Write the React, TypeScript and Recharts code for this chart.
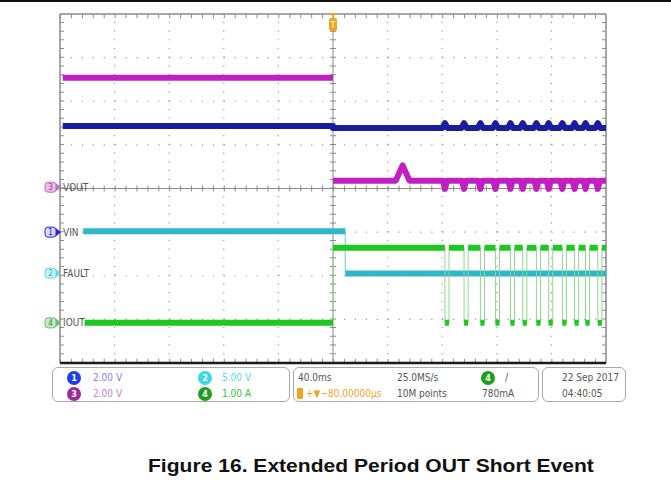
import React from 'react';
import { LineChart, Line, XAxis, YAxis, ReferenceLine } from 'recharts';

// scope screen: 40 ms/div x 10 div, 8 vertical div
const X_DOMAIN = [-200, 200];
const Y_DOMAIN = [-4, 4];
const xGridLines = [-160, -120, -80, -40, 40, 80, 120, 160];
const yGridLines = [-3, -2, -1, 1, 2, 3];

// channel settings: volts (or amps) per div, ground marker in div
const vinScale = 2;
const vinGround = -1.0;
const faultScale = 5;
const faultGround = -1.94;
const voutScale = 2;
const voutGround = 0.03;
const ioutScale = 1;
const ioutGround = -3.08;

// levels
const voutBefore = 5.02;
const voutAfter = 0.3;
const voutDip = -0.08;
const voutBumpAt = [46, 51, 56];
const voutBumpPeak = 1.0;

const vinBefore = 4.86;
const vinAfter = 4.77;
const vinBump = 5.0;

const faultHigh = 4.8;
const faultLow = -0.05;
const faultFallAt = 9;
const faultStart = -183;

const ioutOff = 0;
const ioutOn = 1.72;
const ioutStart = -182;

// hiccup retry instants after the short (ms) and IOUT low time
const retryTimes = [82, 96, 108, 119, 130, 139, 149, 158, 168, 177, 185, 194];
const retryLow = 3;

type Pt = { t: number; v: number | null };

const div = (value: number, scale: number, ground: number) => value / scale + ground;

const voutThick: Pt[] = (() => {
  const d = (v: number) => div(v, voutScale, voutGround);
  const pts: Pt[] = [
    { t: -198, v: d(voutBefore) },
    { t: 0, v: d(voutBefore) },
    { t: 0, v: null },
    { t: 0, v: d(voutAfter) },
    { t: voutBumpAt[0], v: d(voutAfter) },
    { t: voutBumpAt[1], v: d(voutBumpPeak) },
    { t: voutBumpAt[2], v: d(voutAfter) },
  ];
  retryTimes.forEach((p) => {
    pts.push({ t: p - 1.5, v: d(voutAfter) }, { t: p, v: d(voutDip) }, { t: p + 1.5, v: d(voutAfter) });
  });
  pts.push({ t: 200, v: d(voutAfter) });
  return pts;
})();

const vinThick: Pt[] = (() => {
  const d = (v: number) => div(v, vinScale, vinGround);
  const pts: Pt[] = [
    { t: -198, v: d(vinBefore) },
    { t: 0, v: d(vinBefore) },
    { t: 0, v: d(vinAfter) },
  ];
  retryTimes.forEach((p) => {
    pts.push({ t: p - 2, v: d(vinAfter) }, { t: p, v: d(vinBump) }, { t: p + 2, v: d(vinAfter) });
  });
  pts.push({ t: 200, v: d(vinAfter) });
  return pts;
})();

const faultThick: Pt[] = [
  { t: faultStart, v: div(faultHigh, faultScale, faultGround) },
  { t: faultFallAt, v: div(faultHigh, faultScale, faultGround) },
  { t: faultFallAt, v: null },
  { t: faultFallAt, v: div(faultLow, faultScale, faultGround) },
  { t: 200, v: div(faultLow, faultScale, faultGround) },
];

const faultEdge: Pt[] = [
  { t: faultFallAt, v: div(faultHigh, faultScale, faultGround) },
  { t: faultFallAt, v: div(faultLow, faultScale, faultGround) },
];

const ioutThick: Pt[] = (() => {
  const d = (v: number) => div(v, ioutScale, ioutGround);
  const pts: Pt[] = [
    { t: ioutStart, v: d(ioutOff) },
    { t: 0, v: d(ioutOff) },
    { t: 0, v: null },
    { t: 0, v: d(ioutOn) },
  ];
  retryTimes.forEach((p) => {
    pts.push(
      { t: p, v: d(ioutOn) },
      { t: p, v: null },
      { t: p, v: d(ioutOff) },
      { t: p + retryLow, v: d(ioutOff) },
      { t: p + retryLow, v: null },
      { t: p + retryLow, v: d(ioutOn) },
    );
  });
  pts.push({ t: 200, v: d(ioutOn) });
  return pts;
})();

const ioutEdges: Pt[] = (() => {
  const d = (v: number) => div(v, ioutScale, ioutGround);
  const pts: Pt[] = [
    { t: 0, v: d(ioutOff) },
    { t: 0, v: d(ioutOn) },
  ];
  retryTimes.forEach((p) => {
    pts.push(
      { t: p, v: d(ioutOn) },
      { t: p, v: d(ioutOff) },
      { t: p + retryLow, v: d(ioutOff) },
      { t: p + retryLow, v: d(ioutOn) },
    );
  });
  return pts;
})();

const MAGENTA = '#c21fc2';
const BLUE = '#1c1ca0';
const CYAN = '#2fb6c8';
const GREEN = '#1ec81e';
const GRID = '#9a9a9a';
const AXIS = '#8a8a8a';
const ORANGE = '#f5a21e';

const NARROW = "'Liberation Sans Narrow', 'DejaVu Sans Condensed', 'Liberation Sans', sans-serif";

const ChannelTag = (props: any) => {
  const { viewBox, num, name, fill, edge, digit } = props;
  const x = viewBox.x;
  const y = viewBox.y;
  return (
    <g>
      <rect x={x - 15} y={y - 5} width={11} height={10} rx={3} fill={fill} stroke={edge} strokeWidth={1} />
      <text x={x - 9.5} y={y + 3} fontSize={8} textAnchor="middle" fill={digit} fontFamily={NARROW}>
        {num}
      </text>
      <path d={`M${x - 4},${y - 4} L${x + 1},${y} L${x - 4},${y + 4} Z`} fill={edge} />
      <text x={x + 3} y={y + 3.5} fontSize={10} fill="#555" fontFamily={NARROW}>
        {name}
      </text>
    </g>
  );
};

const TriggerMark = (props: any) => {
  const x = props.viewBox.x;
  return (
    <g>
      <path d={`M${x - 3},13 L${x + 3},13 L${x},17 Z`} fill={ORANGE} />
      <rect x={x - 4} y={18} width={8} height={13} rx={2} fill={ORANGE} />
      <text x={x} y={28} fontSize={9} textAnchor="middle" fill="#fff" fontFamily={NARROW}>
        T
      </text>
    </g>
  );
};

const Badge = ({ n, bg }: { n: string; bg: string }) => (
  <div
    style={{
      width: 14,
      height: 14,
      borderRadius: '50%',
      background: bg,
      color: '#fff',
      fontSize: 9,
      fontWeight: 'bold',
      lineHeight: '14px',
      textAlign: 'center',
      fontFamily: NARROW,
    }}
  >
    {n}
  </div>
);

const at = (left: number, top: number, extra: React.CSSProperties = {}): React.CSSProperties => ({
  position: 'absolute',
  left,
  top,
  whiteSpace: 'nowrap',
  ...extra,
});

const txt = (color: string): React.CSSProperties => ({
  fontFamily: NARROW,
  fontSize: 10,
  color,
  lineHeight: '12px',
});

const box = (left: number, width: number): React.CSSProperties => ({
  position: 'absolute',
  left,
  top: 367,
  width,
  height: 35,
  border: '1.5px solid #a8a8a8',
  borderRadius: 6,
  boxSizing: 'border-box',
});

const traceProps = {
  dot: false,
  activeDot: false,
  isAnimationActive: false,
  strokeLinejoin: 'round' as const,
};

export default function App() {
  return (
    <div style={{ position: 'absolute', left: 0, top: 0, width: 671, height: 487, background: '#fff' }}>
      <div style={at(0, 0, { width: 671, height: 2, background: '#111' })} />

      <div style={at(0, 0)}>
        <LineChart width={671} height={487} margin={{ top: 14, left: 60, right: 65, bottom: 124 }}>
          <XAxis type="number" dataKey="t" domain={X_DOMAIN} hide allowDataOverflow />
          <YAxis type="number" domain={Y_DOMAIN} hide allowDataOverflow />

          {yGridLines.map((y) => (
            <ReferenceLine key={`gy${y}`} y={y} stroke={GRID} strokeWidth={1.2} strokeDasharray="1.2 9.72" />
          ))}
          {xGridLines.map((x) => (
            <ReferenceLine key={`gx${x}`} x={x} stroke={GRID} strokeWidth={1.2} strokeDasharray="1.2 7.52" />
          ))}

          <ReferenceLine y={0} stroke={AXIS} strokeWidth={1} />
          <ReferenceLine y={0} stroke={AXIS} strokeWidth={6} strokeDasharray="1 9.92" />
          <ReferenceLine x={0} stroke={AXIS} strokeWidth={1} />
          <ReferenceLine x={0} stroke={AXIS} strokeWidth={6} strokeDasharray="1 7.72" />

          <ReferenceLine y={3.95} stroke={AXIS} strokeWidth={4} strokeDasharray="1 9.92" />
          <ReferenceLine y={-3.95} stroke={AXIS} strokeWidth={4} strokeDasharray="1 9.92" />
          <ReferenceLine x={-198.6} stroke={AXIS} strokeWidth={4} strokeDasharray="1 7.72" />
          <ReferenceLine x={198.6} stroke={AXIS} strokeWidth={4} strokeDasharray="1 7.72" />

          <ReferenceLine y={4} stroke={AXIS} strokeWidth={1.5} />
          <ReferenceLine x={-200} stroke={AXIS} strokeWidth={1.5} />
          <ReferenceLine x={200} stroke={AXIS} strokeWidth={1.5} />
          <ReferenceLine y={-4} stroke="#1a1a1a" strokeWidth={2.5} />

          <Line data={voutThick} dataKey="v" stroke={MAGENTA} strokeWidth={6} {...traceProps} />
          <Line data={vinThick} dataKey="v" stroke={BLUE} strokeWidth={6} {...traceProps} />
          <Line data={faultEdge} dataKey="v" stroke="#7fd4e0" strokeWidth={1.2} {...traceProps} />
          <Line data={faultThick} dataKey="v" stroke={CYAN} strokeWidth={6} {...traceProps} />
          <Line data={ioutEdges} dataKey="v" stroke="#8ed88e" strokeWidth={1} {...traceProps} />
          <Line data={ioutThick} dataKey="v" stroke={GREEN} strokeWidth={6} {...traceProps} />

          <ReferenceLine x={0} stroke="none" label={(p: any) => <TriggerMark {...p} />} />
          <ReferenceLine
            y={voutGround}
            stroke="none"
            label={(p: any) => <ChannelTag {...p} num="3" name="VOUT" fill="#ecbcec" edge="#c070c0" digit="#a040a0" />}
          />
          <ReferenceLine
            y={vinGround}
            stroke="none"
            label={(p: any) => <ChannelTag {...p} num="1" name="VIN" fill="#d8d8ff" edge="#2a2ad0" digit="#2020b0" />}
          />
          <ReferenceLine
            y={faultGround}
            stroke="none"
            label={(p: any) => <ChannelTag {...p} num="2" name="FAULT" fill="#c4f4f8" edge="#60d8e8" digit="#30a8b8" />}
          />
          <ReferenceLine
            y={ioutGround}
            stroke="none"
            label={(p: any) => <ChannelTag {...p} num="4" name="IOUT" fill="#c8e8c8" edge="#70b870" digit="#309030" />}
          />
        </LineChart>
      </div>

      {/* scope status bar */}
      <div style={box(52, 238)} />
      <div style={box(293, 246)} />
      <div style={box(542, 84)} />

      <div style={at(67, 371)}><Badge n="1" bg="#1f3fe6" /></div>
      <div style={at(93, 372, txt('#8080f0'))}>2.00 V</div>
      <div style={at(67, 387)}><Badge n="3" bg="#9c2c9c" /></div>
      <div style={at(93, 388, txt('#d27ad2'))}>2.00 V</div>
      <div style={at(198, 371)}><Badge n="2" bg="#3cd6e8" /></div>
      <div style={at(222, 372, txt('#4fdcef'))}>5.00 V</div>
      <div style={at(198, 387)}><Badge n="4" bg="#1e9e1e" /></div>
      <div style={at(222, 388, txt('#3cbc3c'))}>1.00 A</div>

      <div style={at(298, 372, txt('#555'))}>40.0ms</div>
      <div style={at(397, 372, txt('#555'))}>25.0MS/s</div>
      <div style={at(481, 371)}><Badge n="4" bg="#1e9e1e" /></div>
      <div style={at(505, 372, txt('#555'))}>/</div>
      <div style={at(297, 388, { width: 6, height: 11, background: ORANGE, borderRadius: 1 })} />
      <div style={at(306, 388, txt(ORANGE))}>+▼−80.00000μs</div>
      <div style={at(397, 388, txt('#555'))}>10M points</div>
      <div style={at(482, 388, txt('#555'))}>780mA</div>

      <div style={at(562, 372, txt('#555'))}>22 Sep 2017</div>
      <div style={at(562, 388, txt('#555'))}>04:40:05</div>

      <div
        style={at(148, 456, {
          fontFamily: "'Liberation Sans', Arial, sans-serif",
          fontWeight: 'bold',
          fontSize: 18,
          color: '#111',
          transform: 'scaleX(1.17)',
          transformOrigin: 'left center',
        })}
      >
        Figure 16. Extended Period OUT Short Event
      </div>
    </div>
  );
}
